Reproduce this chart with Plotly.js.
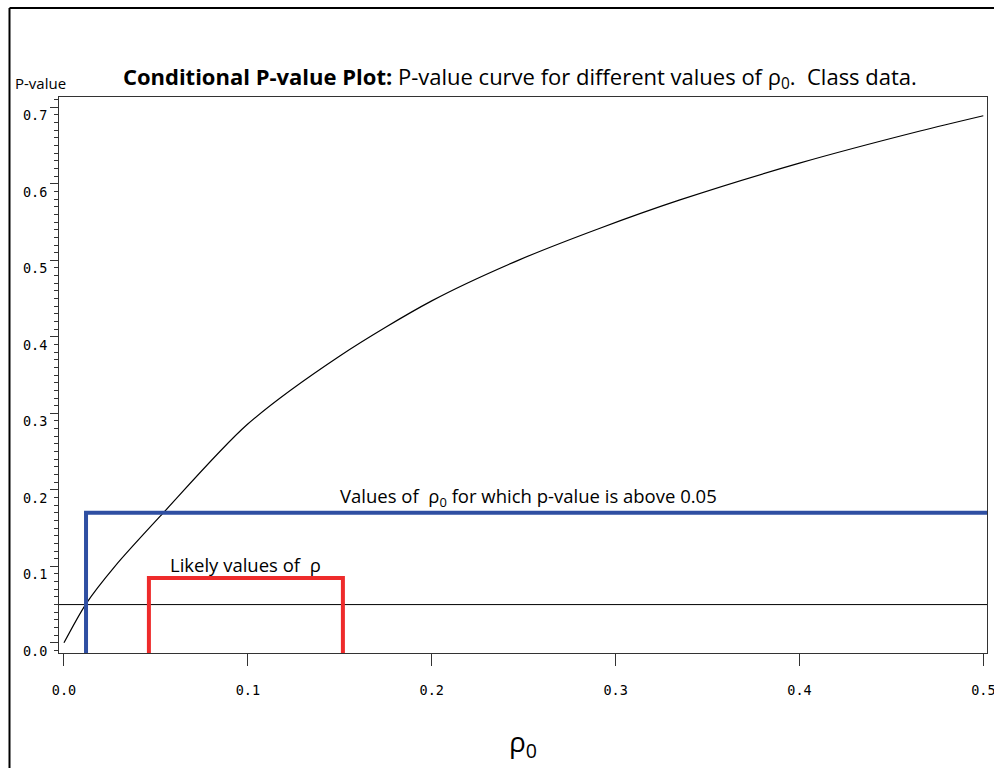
<!DOCTYPE html>
<html>
<head>
<meta charset="utf-8">
<script src="https://cdn.plot.ly/plotly-3.0.1.min.js"></script>
<style>html,body{margin:0;padding:0;background:#fff;}</style>
</head>
<body>
<div id="chart" style="width:994px;height:768px;"></div>
<script>
// P-value curve (rho0, p-value)
const rho0 = [0.0, 0.012, 0.0277, 0.0533, 0.0995, 0.150, 0.200, 0.247, 0.2915, 0.335, 0.400, 0.4656, 0.500];
const pval = [0.0, 0.051, 0.100, 0.168, 0.285, 0.375, 0.447, 0.500, 0.542, 0.579, 0.627, 0.669, 0.689];
// reference line at p = 0.05
const refX = [-0.0027, 0.502];
const refY = [0.05, 0.05];
// blue bracket: values of rho0 with p-value above 0.05
const blueX = [0.012, 0.012, 0.502];
const blueY = [-0.0133, 0.17, 0.17];
// red bracket: likely values of rho
const redX = [0.0462, 0.0462, 0.1517, 0.1517];
const redY = [-0.0133, 0.0847, 0.0847, -0.0133];
const xTicks = [0.0, 0.1, 0.2, 0.3, 0.4, 0.5];
const xTickText = ['0.0', '0.1', '0.2', '0.3', '0.4', '0.5'];
const yTicks = [0.0, 0.1, 0.2, 0.3, 0.4, 0.5, 0.6, 0.7];
const yTickText = ['0.0', '0.1', '0.2', '0.3', '0.4', '0.5', '0.6', '0.7'];

const textFont = 'Open Sans, Noto Sans, sans-serif';
const monoFont = 'DejaVu Sans Mono, monospace';

const traces = [
  {x: refX, y: refY, mode: 'lines', line: {color: '#000', width: 1}, hoverinfo: 'skip'},
  {x: rho0, y: pval, mode: 'lines', line: {color: '#000', width: 1.2, shape: 'spline', smoothing: 0.8}},
  {x: blueX, y: blueY, mode: 'lines', line: {color: '#2f4fa2', width: 4}},
  {x: redX, y: redY, mode: 'lines', line: {color: '#ee2b2b', width: 4}}
];

const layout = {
  width: 994, height: 768,
  margin: {l: 59, r: 7, t: 97, b: 115},
  paper_bgcolor: '#fff', plot_bgcolor: '#fff',
  showlegend: false,
  title: {
    text: '<b>Conditional P-value Plot:</b> P-value curve for different values of ρ<sub>0</sub>.  Class data.',
    font: {family: textFont, size: 22, color: '#000'},
    x: 0.523, xref: 'container', xanchor: 'center',
    y: 0.9, yref: 'container', yanchor: 'middle'
  },
  xaxis: {
    range: [-0.0027, 0.502], showgrid: false, zeroline: false,
    showline: true, mirror: true, linecolor: '#333', linewidth: 1,
    ticks: 'outside', ticklen: 12, tickcolor: '#333', tickwidth: 1,
    tickvals: xTicks, ticktext: xTickText,
    tickfont: {family: monoFont, size: 13.5, color: '#000'},
    ticklabelstandoff: 13, ticklabeloverflow: 'allow',
    title: {text: 'ρ<sub>0</sub>', font: {family: textFont, size: 28, color: '#000'}, standoff: 35}
  },
  yaxis: {
    range: [-0.0133, 0.7135], showgrid: false, zeroline: false,
    showline: true, mirror: true, linecolor: '#333', linewidth: 1,
    ticks: 'outside', ticklen: 8, tickcolor: '#333', tickwidth: 1,
    tickvals: yTicks, ticktext: yTickText,
    tickfont: {family: monoFont, size: 13.5, color: '#000'},
    ticklabelshift: 8, ticklabeloverflow: 'allow',
    minor: {dtick: 0.01, ticks: 'outside', ticklen: 4, tickcolor: '#333', showgrid: false}
  },
  annotations: [
    {text: 'P-value', xref: 'paper', yref: 'paper', x: (13 - 59) / 928, y: (653 - 83) / 556,
     xanchor: 'left', yanchor: 'middle', showarrow: false, font: {family: textFont, size: 15, color: '#000'}},
    {text: 'Values of  ρ<sub>0</sub> for which p-value is above 0.05', xref: 'paper', yref: 'paper',
     x: (528 - 59) / 928, y: (653 - 497) / 556, xanchor: 'center', yanchor: 'middle', showarrow: false,
     font: {family: textFont, size: 18.5, color: '#000'}},
    {text: 'Likely values of  ρ', xref: 'paper', yref: 'paper',
     x: (168 - 59) / 928, y: (653 - 564) / 556, xanchor: 'left', yanchor: 'middle', showarrow: false,
     font: {family: textFont, size: 18.5, color: '#000'}}
  ],
  shapes: [
    {type: 'line', xref: 'paper', yref: 'paper', x0: (9.5 - 59) / 928, x1: (9.5 - 59) / 928,
     y0: (653 - 8) / 556, y1: (653 - 780) / 556, line: {color: '#000', width: 2}},
    {type: 'line', xref: 'paper', yref: 'paper', x0: (9.5 - 59) / 928, x1: (1000 - 59) / 928,
     y0: (653 - 8) / 556, y1: (653 - 8) / 556, line: {color: '#000', width: 2}}
  ]
};

Plotly.newPlot('chart', traces, layout, {displayModeBar: false, staticPlot: true});
</script>
</body>
</html>
